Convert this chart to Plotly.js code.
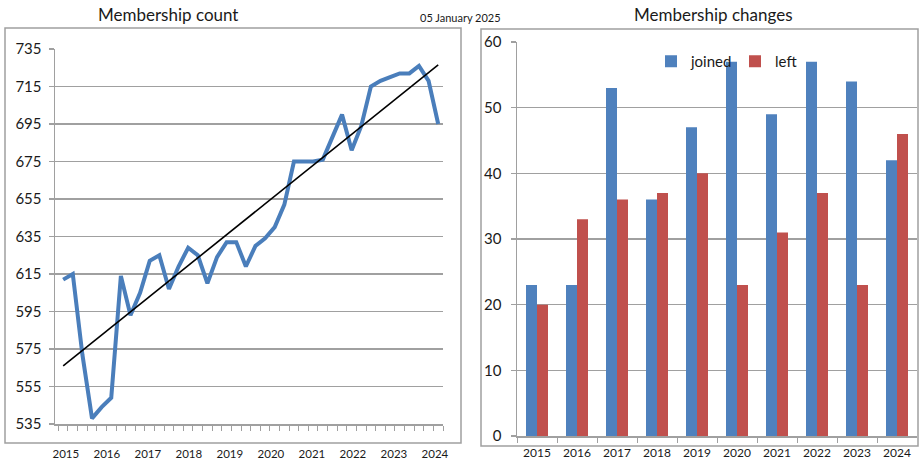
<!DOCTYPE html>
<html>
<head>
<meta charset="utf-8">
<script src="https://cdn.plot.ly/plotly-3.0.1.min.js"></script>
<style>
  html, body { margin: 0; padding: 0; background: #ffffff; }
  #chart { width: 922px; height: 461px; }
</style>
</head>
<body>
<div id="chart"></div>
<script>
// ---- data ----
const years = ['2015','2016','2017','2018','2019','2020','2021','2022','2023','2024'];
// quarterly membership count, 2015 Q1 .. 2024 Q4
const memberCount = [
  612, 615, 572, 538,
  544, 549, 614, 593,
  605, 622, 625, 607,
  619, 629, 625, 610,
  624, 632, 632, 619,
  630, 634, 640, 652,
  675, 675, 675, 676,
  688, 700, 681, 694,
  715, 718, 720, 722,
  722, 726, 718, 695
];
const trendEnds = [566, 726.5];
const joined = [23, 23, 53, 36, 47, 57, 49, 57, 54, 42];
const left   = [20, 33, 36, 37, 40, 23, 31, 37, 23, 46];
const leftTicks = ['535','555','575','595','615','635','655','675','695','715','735'];

// ---- styling ----
const W = 922, H = 461;
const FONT = 'Lato, "Open Sans", sans-serif';
const BLUE = '#4F81BD', RED = '#C0504D', GRID = '#A0A0A0', TXT = '#1a1a1a';
const px = (x) => x / W;
const py = (y) => 1 - y / H;

const qIdx = memberCount.map((_, i) => i);
const lastIdx = memberCount.length - 1;
const yearTickPos = years.map((_, k) => 0.28 + k * 4.264);

const traces = [
  {
    type: 'scatter', mode: 'lines', x: qIdx, y: memberCount,
    xaxis: 'x', yaxis: 'y', showlegend: false,
    line: { color: '#4A7EBB', width: 4, shape: 'linear' }, hoverinfo: 'skip'
  },
  {
    type: 'scatter', mode: 'lines', x: [0, lastIdx], y: trendEnds,
    xaxis: 'x', yaxis: 'y', showlegend: false,
    line: { color: '#000000', width: 1.6 }, hoverinfo: 'skip'
  },
  {
    type: 'bar', name: 'joined', x: years, y: joined,
    xaxis: 'x2', yaxis: 'y2', marker: { color: BLUE }
  },
  {
    type: 'bar', name: 'left', x: years, y: left,
    xaxis: 'x2', yaxis: 'y2', marker: { color: RED }
  }
];

const layout = {
  width: W, height: H,
  margin: { l: 0, r: 0, t: 0, b: 0 },
  paper_bgcolor: '#ffffff', plot_bgcolor: 'rgba(0,0,0,0)',
  font: { family: FONT, color: TXT },
  barmode: 'group', bargap: 0.45, bargroupgap: 0,
  showlegend: true,
  legend: {
    orientation: 'h', x: px(651), y: py(45), xanchor: 'left', yanchor: 'top',
    bgcolor: 'rgba(0,0,0,0)', font: { family: FONT, size: 15, color: TXT },
    entrywidth: 39, itemwidth: 30, traceorder: 'normal'
  },
  xaxis: {
    domain: [px(55), px(443)], range: [-0.85, lastIdx + 0.5],
    showgrid: false, zeroline: false, showline: true, linecolor: GRID, linewidth: 1.5,
    tickmode: 'array', tickvals: yearTickPos, ticktext: years, ticks: '',
    ticklabelstandoff: 19,
    tickfont: { family: FONT, size: 11.5, color: TXT },
    minor: { tick0: -0.5, dtick: 1, ticks: 'outside', ticklen: 5, tickcolor: GRID, tickwidth: 1, showgrid: false },
    anchor: 'y', fixedrange: true
  },
  yaxis: {
    domain: [py(424), py(49)], range: [535, 735],
    tickmode: 'array', tickvals: leftTicks.map(Number), ticktext: leftTicks,
    showgrid: true, gridcolor: GRID, gridwidth: 1.6, zeroline: false,
    showline: true, linecolor: GRID, linewidth: 1.5,
    ticks: 'outside', ticklen: 5, tickcolor: GRID, tickwidth: 1.5,
    ticklabelstandoff: 4,
    tickfont: { family: FONT, size: 15, color: TXT },
    anchor: 'x', fixedrange: true
  },
  xaxis2: {
    domain: [px(517), px(917)], type: 'category',
    showgrid: false, zeroline: false, showline: true, linecolor: GRID, linewidth: 1.5,
    ticks: 'outside', ticklen: 5, tickcolor: GRID, tickwidth: 1, tickson: 'boundaries',
    ticklabelstandoff: 5,
    tickfont: { family: FONT, size: 12, color: TXT },
    anchor: 'y2', fixedrange: true
  },
  yaxis2: {
    domain: [py(436), py(42)], range: [0, 60], dtick: 10, tick0: 0,
    showgrid: true, gridcolor: GRID, gridwidth: 1.6, zeroline: false,
    showline: true, linecolor: GRID, linewidth: 1.5,
    ticks: 'outside', ticklen: 5, tickcolor: GRID, tickwidth: 1.5,
    ticklabelstandoff: 6,
    tickfont: { family: FONT, size: 15, color: TXT },
    anchor: 'x2', fixedrange: true
  },
  shapes: [
    { type: 'rect', xref: 'paper', yref: 'paper', x0: px(5), x1: px(461), y0: py(443), y1: py(28),
      line: { color: GRID, width: 1.5 }, fillcolor: 'rgba(0,0,0,0)', layer: 'below' },
    { type: 'rect', xref: 'paper', yref: 'paper', x0: px(481), x1: px(918), y0: py(446), y1: py(29),
      line: { color: GRID, width: 1.5 }, fillcolor: 'rgba(0,0,0,0)', layer: 'below' }
  ],
  annotations: [
    { text: 'Membership count', xref: 'paper', yref: 'paper', x: px(168), y: py(15),
      xanchor: 'center', yanchor: 'middle', showarrow: false,
      font: { family: FONT, size: 17, color: TXT } },
    { text: 'Membership changes', xref: 'paper', yref: 'paper', x: px(713), y: py(15),
      xanchor: 'center', yanchor: 'middle', showarrow: false,
      font: { family: FONT, size: 17, color: TXT } },
    { text: '05 January 2025', xref: 'paper', yref: 'paper', x: px(460), y: py(17),
      xanchor: 'center', yanchor: 'middle', showarrow: false,
      font: { family: FONT, size: 11, color: TXT } }
  ]
};

Plotly.newPlot('chart', traces, layout, { staticPlot: true, displayModeBar: false });
</script>
</body>
</html>
